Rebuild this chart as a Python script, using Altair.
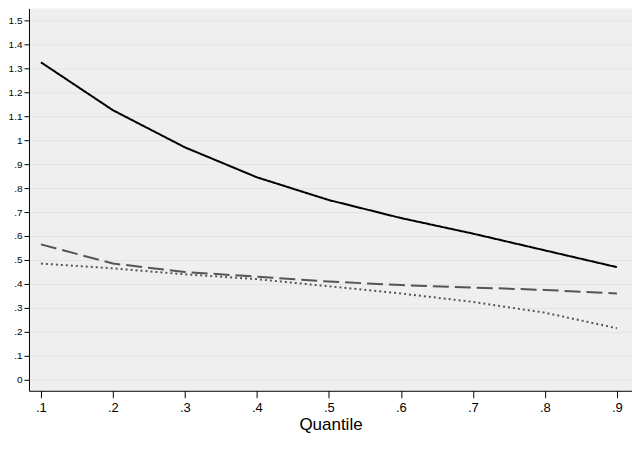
import altair as alt
import pandas as pd

q = [0.1, 0.2, 0.3, 0.4, 0.5, 0.6, 0.7, 0.8, 0.9]
diff = [1.325, 1.125, 0.97, 0.845, 0.75, 0.675, 0.61, 0.54, 0.47]
chars = [0.565, 0.485, 0.45, 0.43, 0.41, 0.395, 0.385, 0.375, 0.36]
coefs = [0.485, 0.465, 0.44, 0.42, 0.39, 0.36, 0.325, 0.28, 0.215]
series = ["Characteristics", "Coefficients", "Difference"]

rows = []
for name, vals in zip(series, [chars, coefs, diff]):
    for x, v in zip(q, vals):
        rows.append({"q": x, "v": v, "s": name})
df = pd.DataFrame(rows)

xlabels = "datum.value==0.1?'.1':datum.value==0.2?'.2':datum.value==0.3?'.3':datum.value==0.4?'.4':datum.value==0.5?'.5':datum.value==0.6?'.6':datum.value==0.7?'.7':datum.value==0.8?'.8':'.9'"
ylabels = "datum.value==0?'0':datum.value==1?'1':replace(format(datum.value,'.1f'),/^0/,'')"

leg = alt.Legend(title=None, orient="bottom", direction="horizontal",
                 symbolType="stroke", symbolSize=4900, symbolStrokeWidth=2,
                 labelFontSize=13, columnPadding=35, offset=18)

chart = alt.Chart(df).mark_line(strokeWidth=2).encode(
    x=alt.X("q:Q", scale=alt.Scale(domain=[0.0834, 0.921], nice=False, zero=False),
            axis=alt.Axis(values=q, labelExpr=xlabels, title="Quantile", grid=False,
                          titleFontSize=17, titleFontWeight="normal", titlePadding=2,
                          labelFontSize=13, tickSize=7, labelPadding=4)),
    y=alt.Y("v:Q", scale=alt.Scale(domain=[-0.046, 1.55], nice=False),
            axis=alt.Axis(values=[i / 10 for i in range(16)], labelExpr=ylabels, title=None,
                          labelFontSize=10, tickSize=5, grid=True, gridColor="#e4e4e4")),
    color=alt.Color("s:N", scale=alt.Scale(domain=series, range=["#555555", "#555555", "#000000"]),
                    legend=leg),
    strokeDash=alt.StrokeDash("s:N", scale=alt.Scale(domain=series, range=[[16, 6], [2, 3], [1, 0]]),
                              legend=leg),
).properties(width=604, height=383, padding={"left": 0, "top": 0, "right": 0, "bottom": 0}).configure_view(
    fill="#efefef", stroke=None
).configure_axis(domainColor="#000", tickColor="#000", labelColor="#000",
                 labelFont="Liberation Sans", titleFont="Liberation Sans", titleColor="#000"
).configure_legend(labelFont="Liberation Sans", labelColor="#000")

chart.save("out.html", embed_options={"renderer": "svg", "actions": False})
